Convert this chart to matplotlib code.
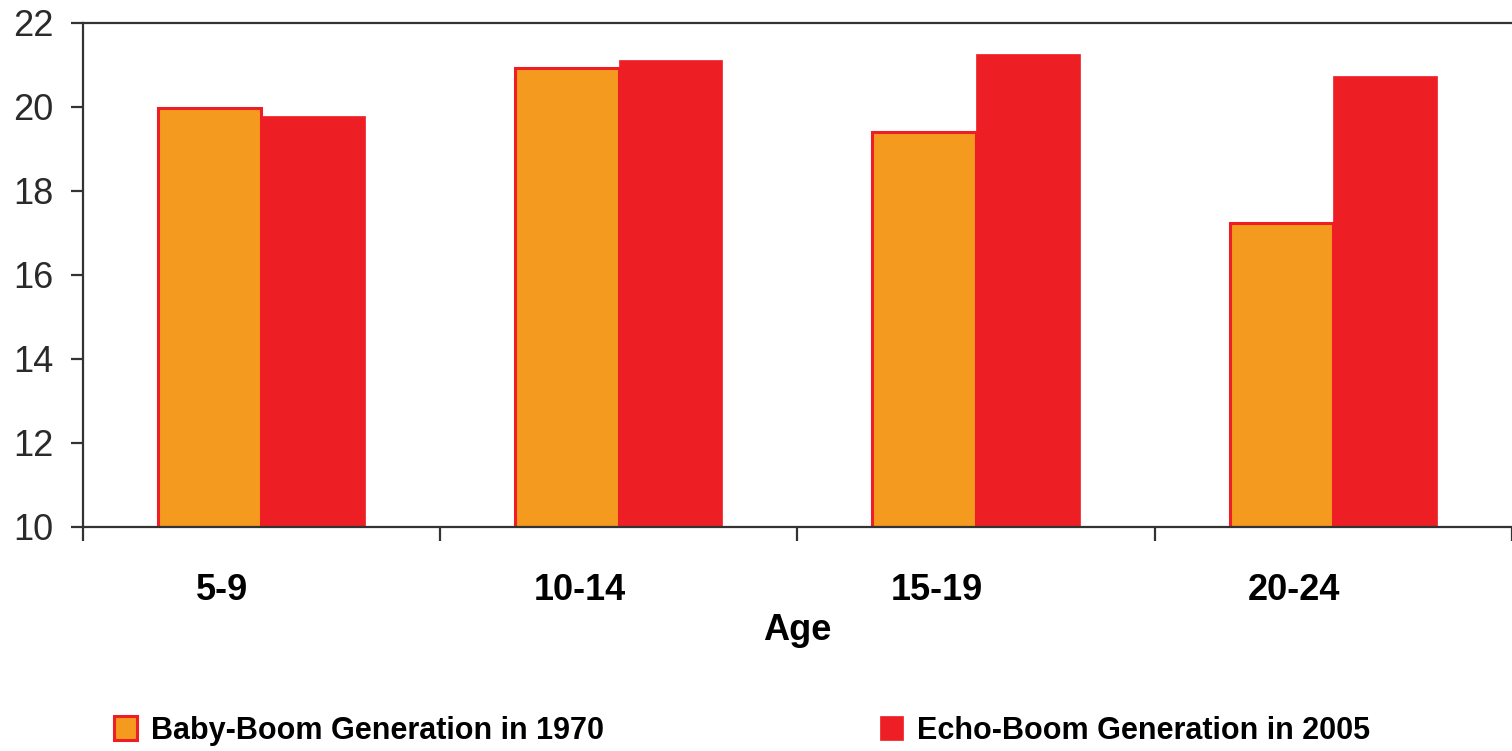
import numpy as np
from matplotlib import pyplot as plt
from matplotlib import transforms

ages = ['5-9', '10-14', '15-19', '20-24']
baby_boom_1970 = [19.96, 20.93, 19.40, 17.24]
echo_boom_2005 = [19.78, 21.11, 21.25, 20.73]
series_names = ['Baby-Boom Generation in 1970', 'Echo-Boom Generation in 2005']

orange = '#F39A1F'
red = '#EE1F24'

plt.rcParams['font.family'] = ['Liberation Sans', 'DejaVu Sans']

fig = plt.figure(figsize=[15.12, 7.51], dpi=100)
ax = fig.add_axes([0.0547, 0.2987, 0.9453, 0.6711])

x = np.arange(len(ages))
width = 0.29
b1 = ax.bar(x - width / 2, baby_boom_1970, width, color=orange,
            edgecolor=red, linewidth=2.2, label=series_names[0], zorder=2)
b2 = ax.bar(x + width / 2, echo_boom_2005, width, color=red,
            edgecolor=red, linewidth=0.5, label=series_names[1], zorder=2)

ax.set_ylim(10, 22)
ax.set_xlim(-0.5, 3.47)
ax.set_yticks(range(10, 23, 2))

ax.spines['right'].set_visible(False)
for side in ['left', 'bottom', 'top']:
    ax.spines[side].set_color('#333333')
    ax.spines[side].set_linewidth(1.6)

ax.tick_params(axis='y', direction='out', length=9, width=1.6, color='#333333',
               labelsize=26, labelcolor='#2a2a2a', pad=12)

# category labels sit slightly left of centre, boundaries get the tick marks
ax.set_xticks(x - 0.11)
ax.set_xticklabels(ages, fontweight='bold', fontsize=26)
ax.set_xticks(np.arange(-0.5, len(ages), 1), minor=True)
ax.tick_params(axis='x', which='major', length=0, pad=33)
ax.tick_params(axis='x', which='minor', direction='out', length=10, width=1.6, color='#333333')

trans = transforms.blended_transform_factory(ax.transData, fig.transFigure)
ax.text(1.5, 0.161, 'Age', transform=trans, ha='center', va='center',
        fontsize=26, fontweight='bold')

leg_style = dict(loc='center left', frameon=False, prop={'weight': 'bold', 'size': 22},
                 handlelength=0.75, handleheight=0.85, handletextpad=0.45)
fig.legend(handles=[b1], bbox_to_anchor=(0.0572, 0.027), **leg_style)
fig.legend(handles=[b2], bbox_to_anchor=(0.5638, 0.027), **leg_style)

fig.savefig('out.png', dpi=100)
